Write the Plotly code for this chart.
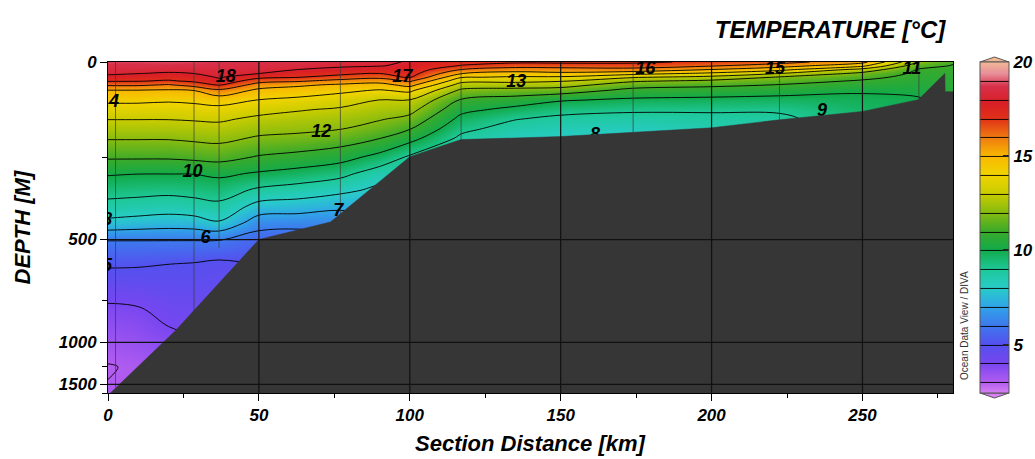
import numpy as np
import plotly.graph_objects as go

# ---------------------------------------------------------------------------
# Section data: stations along the transect and standard depths
# ---------------------------------------------------------------------------
distance_km = [0, 10, 20, 28.5, 36.8, 50, 63, 77, 90, 100, 117, 135, 150,
               174, 200, 222.5, 250, 268.7, 280]
depth_m = [0, 10, 20, 30, 40, 50, 60, 75, 100, 125, 150, 175, 200, 250, 300,
           350, 400, 450, 500, 600, 800, 1000, 1250, 1500, 1750]

# Temperature profiles (degC), surface to bottom, one per station
temp_000 = [18.8, 18.6, 18.4, 18.15, 17.75, 17.08, 16.17, 14.92, 14.2, 13.6, 13.03, 12.56, 12.08,
            11.13, 10.09, 9.39, 8.67, 7.72, 6.05, 5.12, 3.85, 3.35, 2.95, 3.02, 3.05]
temp_010 = [18.8, 18.6, 18.35, 18.03, 17.54, 17.06, 16.17, 14.92, 14.2, 13.6, 13.03, 12.56, 12.08,
            11.13, 10.02, 9.33, 8.57, 7.58, 6.05, 5.09, 3.94, 3.5, 3.1, 3.05, 3.0]
temp_020 = [18.85, 18.6, 18.3, 17.89, 17.41, 16.88, 15.93, 14.85, 14.12, 13.56, 13.03, 12.56, 12.08,
            11.13, 10.02, 9.26, 8.47, 7.46, 6.05, 5.01, 4.28, 3.75, 3.4, 3.2, 3.1]
temp_028 = [18.8, 18.55, 18.25, 18.01, 17.59, 17.17, 16.43, 15.0, 14.22, 13.62, 13.09, 12.62, 12.18,
            11.24, 10.03, 9.35, 8.6, 7.54, 6.05, 4.95, 4.35, 3.9, 3.6, 3.4, 3.3]
temp_037 = [18.7, 18.55, 18.4, 18.24, 18.09, 17.75, 17.12, 15.75, 14.42, 13.71, 13.15, 12.69, 12.26,
            11.34, 10.19, 9.45, 8.77, 7.89, 6.06, 4.8, 4.4, 4.0, 3.7, 3.6, 3.5]
temp_050 = [18.6, 18.45, 18.3, 18.02, 17.26, 16.38, 15.54, 14.75, 13.97, 13.34, 12.79, 12.34, 11.89,
            10.92, 9.89, 8.84, 7.62, 6.43, 5.5, 5.0, 4.5, 4.2, 4.0, 3.9, 3.8]
temp_063 = [18.6, 18.4, 17.99, 17.51, 17.04, 16.13, 15.18, 14.55, 13.76, 13.08, 12.63, 12.22, 11.77,
            10.71, 9.64, 8.59, 7.49, 6.35, 5.4, 5.0, 4.6, 4.3, 4.1, 4.0, 3.9]
temp_077 = [18.4, 18.15, 17.74, 17.26, 16.58, 15.63, 14.86, 14.22, 13.47, 12.87, 12.46, 12.05, 11.54,
            10.38, 9.29, 8.24, 7.21, 6.3, 5.8, 5.2, 4.7, 4.4, 4.2, 4.0, 3.9]
temp_090 = [18.25, 18.05, 17.49, 17.01, 16.26, 15.38, 14.67, 13.9, 12.98, 12.53, 12.08, 11.56, 11.04,
            9.69, 8.48, 7.8, 7.3, 6.8, 6.3, 5.8, 5.2, 4.7, 4.4, 4.2, 4.0]
temp_100 = [17.9, 17.8, 17.65, 17.45, 17.05, 16.13, 15.34, 14.2, 12.97, 12.34, 11.71, 11.07, 10.36,
            8.85, 8.6, 8.3, 8.0, 7.7, 7.3, 6.8, 6.2, 5.8, 5.5, 5.3, 5.2]
temp_117 = [17.4, 16.93, 15.98, 15.03, 14.08, 13.3, 12.62, 11.8, 10.91, 10.27, 9.73, 9.26, 8.8,
            8.6, 8.4, 8.2, 8.0, 7.7, 7.3, 6.8, 6.2, 5.8, 5.5, 5.3, 5.2]
temp_135 = [17.2, 16.43, 15.48, 14.62, 13.88, 13.25, 12.54, 11.63, 10.56, 9.72, 9.04, 8.6, 8.25,
            8.1, 8.0, 7.8, 7.6, 7.4, 7.2, 6.8, 6.2, 5.8, 5.5, 5.3, 5.2]
temp_150 = [17.25, 16.43, 15.58, 14.78, 13.86, 13.08, 12.45, 11.5, 10.09, 9.32, 8.78, 8.4, 8.03,
            7.9, 7.8, 7.7, 7.5, 7.3, 7.1, 6.8, 6.2, 5.8, 5.5, 5.3, 5.2]
temp_174 = [17.2, 16.54, 15.63, 14.37, 13.1, 12.13, 11.45, 10.7, 9.83, 9.15, 8.66, 8.23, 7.95,
            7.8, 7.7, 7.6, 7.5, 7.3, 7.1, 6.8, 6.2, 5.8, 5.5, 5.3, 5.2]
temp_200 = [16.8, 16.08, 14.97, 13.82, 12.7, 11.78, 11.21, 10.57, 9.75, 9.12, 8.76, 8.48, 8.3,
            8.1, 7.9, 7.7, 7.5, 7.3, 7.1, 6.8, 6.2, 5.8, 5.5, 5.3, 5.2]
temp_222 = [16.4, 15.43, 14.3, 13.03, 11.91, 11.44, 10.97, 10.4, 9.68, 9.12, 8.82, 8.7, 8.6,
            8.4, 8.2, 8.0, 7.8, 7.5, 7.2, 6.8, 6.2, 5.8, 5.5, 5.3, 5.2]
temp_250 = [15.3, 14.23, 12.63, 11.76, 11.29, 10.88, 10.56, 10.08, 9.83, 9.64, 9.55, 9.5, 9.4,
            9.2, 9.0, 8.8, 8.5, 8.2, 7.9, 7.5, 7.0, 6.5, 6.0, 5.7, 5.5]
temp_269 = [12.0, 11.31, 10.93, 10.8, 10.67, 10.55, 10.41, 10.22, 9.9, 9.85, 9.8, 9.7, 9.6,
            9.4, 9.2, 9.0, 8.7, 8.4, 8.1, 7.7, 7.2, 6.7, 6.2, 5.9, 5.7]
temp_280 = [11.1, 10.95, 10.85, 10.75, 10.7, 10.65, 10.6, 10.55, 10.5, 10.45, 10.4, 10.3, 10.2,
            10.0, 9.8, 9.5, 9.2, 8.9, 8.6, 8.2, 7.6, 7.1, 6.6, 6.2, 6.0]

profiles = [temp_000, temp_010, temp_020, temp_028, temp_037, temp_050, temp_063,
            temp_077, temp_090, temp_100, temp_117, temp_135, temp_150, temp_174,
            temp_200, temp_222, temp_250, temp_269, temp_280]

# Sea floor along the section (km, m)
bottom_km = [0.8, 22.4, 50, 73.7, 100, 117, 150, 200, 222.5, 250, 268.5, 277.3, 277.4, 280]
bottom_m = [1750, 930, 500, 447, 249, 204, 196, 173, 152, 130, 99, 30, 78, 78]

# CTD casts: position and maximum sampled depth
station_km = [2.5, 28.5, 36.8, 77, 117, 174, 222.5, 268.7]
station_max_m = [1590, 820, 535, 438, 204, 188, 152, 99]

# Isotherm labels
label_text = ["18", "17", "16", "15", "14", "13", "12", "11", "10", "9", "8", "8", "7", "6", "5"]
label_km = [39, 97.5, 178, 221, 0.33, 135.3, 70.7, 266.4, 28, 236.6, 161.4, -0.3, 76.3, 32.3, -0.3]
label_m = [41, 41, 20, 20, 107, 54, 186, 20, 298, 130, 194, 441, 416, 498, 612]

# Axis ticks
x_ticks = [0, 50, 100, 150, 200, 250]
x_minor = [25, 75, 125, 175, 225, 275]
y_ticks = [0, 500, 1000, 1500]
y_minor = [250, 750, 1250, 1750]
grid_km = [50, 100, 150, 200, 250]
grid_m = [500, 1000, 1500]

# Colour bar range and palette (degC -> colour)
t_min, t_max = 2.43, 20.0
palette_t = [2.43, 3.0, 4.0, 5.0, 6.0, 7.0, 8.0, 9.0, 10.0, 11.0, 12.0, 13.0, 14.0,
             15.0, 16.0, 17.0, 17.8, 18.7, 19.4, 20.0]
palette_c = ["#d680f2", "#b25cf0", "#7846f0", "#5450ee", "#3e78ee", "#30a4e8", "#28ccc8",
             "#1ec898", "#12aa4a", "#3aaa2a", "#86bb10", "#c8cc00", "#f0d400", "#f8b800",
             "#f07a10", "#e03018", "#d91f26", "#d8304a", "#e8909a", "#f2b896"]

# ---------------------------------------------------------------------------
# Stretched depth axis (upper ocean expanded)
# ---------------------------------------------------------------------------
depth_knots = [0, 250, 500, 750, 1000, 1250, 1500, 1750]
axis_knots = [0, 94.8, 177, 237.5, 279.5, 304, 321.5, 330]


def depth_axis(d):
    return np.interp(np.asarray(d, dtype=float), depth_knots, axis_knots)


FONT = "Liberation Sans, Arial, sans-serif"
BATHY = "#363636"

# plot-area frame in pixels
PL, PR, PT, PB = 108, 953, 62, 393


def px_x(px):
    return (px - PL) / (PR - PL)


def px_y(py):
    return (PB - py) / (PB - PT)


z = np.array(profiles).T
colorscale = [[(t - t_min) / (t_max - t_min), c] for t, c in zip(palette_t, palette_c)]

fig = go.Figure()

fig.add_trace(go.Contour(
    x=distance_km, y=depth_axis(depth_m), z=z,
    zauto=False, zmin=t_min, zmax=t_max, colorscale=colorscale,
    contours=dict(start=3, end=19, size=1, coloring="heatmap", showlines=True),
    line=dict(color="black", width=0.9, smoothing=1.0),
    hoverinfo="skip",
    colorbar=dict(
        x=px_x(980), xanchor="left", xpad=0,
        y=1, yanchor="top", ypad=0,
        len=PB - PT, lenmode="pixels", thickness=29,
        outlinewidth=1, outlinecolor="#555555",
        tickvals=[5, 10, 15, 20], ticks="inside", ticklen=6, tickwidth=1.5,
        tickcolor="#222222",
        tickfont=dict(family=FONT, size=17, color="black", weight="bold", style="italic"),
    ),
))

# station casts
sx, sy = [], []
for km, dmax in zip(station_km, station_max_m):
    sx += [km, km, None]
    sy += [depth_axis(0), depth_axis(dmax), None]
fig.add_trace(go.Scatter(x=sx, y=sy, mode="lines",
                         line=dict(color="#3a3a3a", width=0.7),
                         hoverinfo="skip", showlegend=False))

# isotherm labels
fig.add_trace(go.Scatter(
    x=label_km, y=depth_axis(label_m), mode="text", text=label_text,
    textposition="middle center", cliponaxis=True,
    textfont=dict(family=FONT, size=18, color="black", weight="bold", style="italic"),
    hoverinfo="skip", showlegend=False))

# sea floor
fig.add_trace(go.Scatter(
    x=bottom_km + [280, 0.8], y=list(depth_axis(bottom_m)) + list(depth_axis([1750, 1750])),
    mode="lines", fill="toself", fillcolor=BATHY,
    line=dict(color=BATHY, width=0.5), hoverinfo="skip", showlegend=False))

# grid lines drawn on top of the section
gx, gy = [], []
for km in grid_km:
    gx += [km, km, None]
    gy += [depth_axis(0), depth_axis(1750), None]
for d in grid_m:
    gx += [0, 280, None]
    gy += [depth_axis(d), depth_axis(d), None]
fig.add_trace(go.Scatter(x=gx, y=gy, mode="lines",
                         line=dict(color="#111111", width=1.2),
                         hoverinfo="skip", showlegend=False))

tick_font = dict(family=FONT, size=17, color="black", weight="bold", style="italic")
title_font = dict(family=FONT, size=22, color="black", weight="bold", style="italic")

fig.update_xaxes(
    range=[0, 280], tickvals=x_ticks, ticks="outside", ticklen=7, tickwidth=1.2,
    tickcolor="black", minor=dict(tickvals=x_minor, ticks="outside", ticklen=4,
                                  tickcolor="black", tickwidth=1),
    showgrid=False, zeroline=False, showline=True, linecolor="black", linewidth=1,
    mirror=True, tickfont=tick_font)
fig.update_yaxes(
    range=[330, 0], tickvals=depth_axis(y_ticks), ticktext=[str(v) for v in y_ticks],
    ticks="outside", ticklen=7, tickwidth=1.2, tickcolor="black",
    minor=dict(tickvals=depth_axis(y_minor), ticks="outside", ticklen=5,
               tickcolor="black", tickwidth=1),
    showgrid=False, zeroline=False, showline=True, linecolor="black", linewidth=1,
    mirror=True, tickfont=tick_font)

# colour bar end caps
cap_l, cap_r = px_x(980), px_x(1009)
cap_m = (cap_l + cap_r) / 2
shapes = [
    dict(type="path", xref="paper", yref="paper",
         path=f"M {cap_l} {px_y(PT)} L {cap_m} {px_y(PT - 5)} L {cap_r} {px_y(PT)} Z",
         fillcolor=palette_c[-1], line=dict(color="#555555", width=1)),
    dict(type="path", xref="paper", yref="paper",
         path=f"M {cap_l} {px_y(PB)} L {cap_m} {px_y(PB + 5)} L {cap_r} {px_y(PB)} Z",
         fillcolor=palette_c[0], line=dict(color="#555555", width=1)),
]

annotations = [
    dict(text="Section Distance [km]", xref="paper", yref="paper", x=0.5, y=px_y(443),
         xanchor="center", yanchor="middle", showarrow=False, font=title_font),
    dict(text="DEPTH [M]", xref="paper", yref="paper", x=px_x(22), y=0.5,
         xanchor="center", yanchor="middle", textangle=-90, showarrow=False, font=title_font),
    dict(text="Ocean Data View / DIVA", xref="paper", yref="paper", x=px_x(964), y=px_y(326),
         xanchor="center", yanchor="middle", textangle=-90, showarrow=False,
         font=dict(family=FONT, size=10, color="#333333")),
]

fig.update_layout(
    width=1035, height=459,
    margin=dict(l=PL, r=1035 - PR, t=PT, b=459 - PB, autoexpand=False),
    paper_bgcolor="white", plot_bgcolor="white",
    showlegend=False,
    title=dict(text="TEMPERATURE [°C]", x=830 / 1035, xref="container", xanchor="center",
               y=1 - 30 / 459, yref="container", yanchor="middle",
               font=dict(family=FONT, size=24, color="black", weight="bold", style="italic")),
    shapes=shapes,
    annotations=annotations,
)

fig.write_html("out.html")
